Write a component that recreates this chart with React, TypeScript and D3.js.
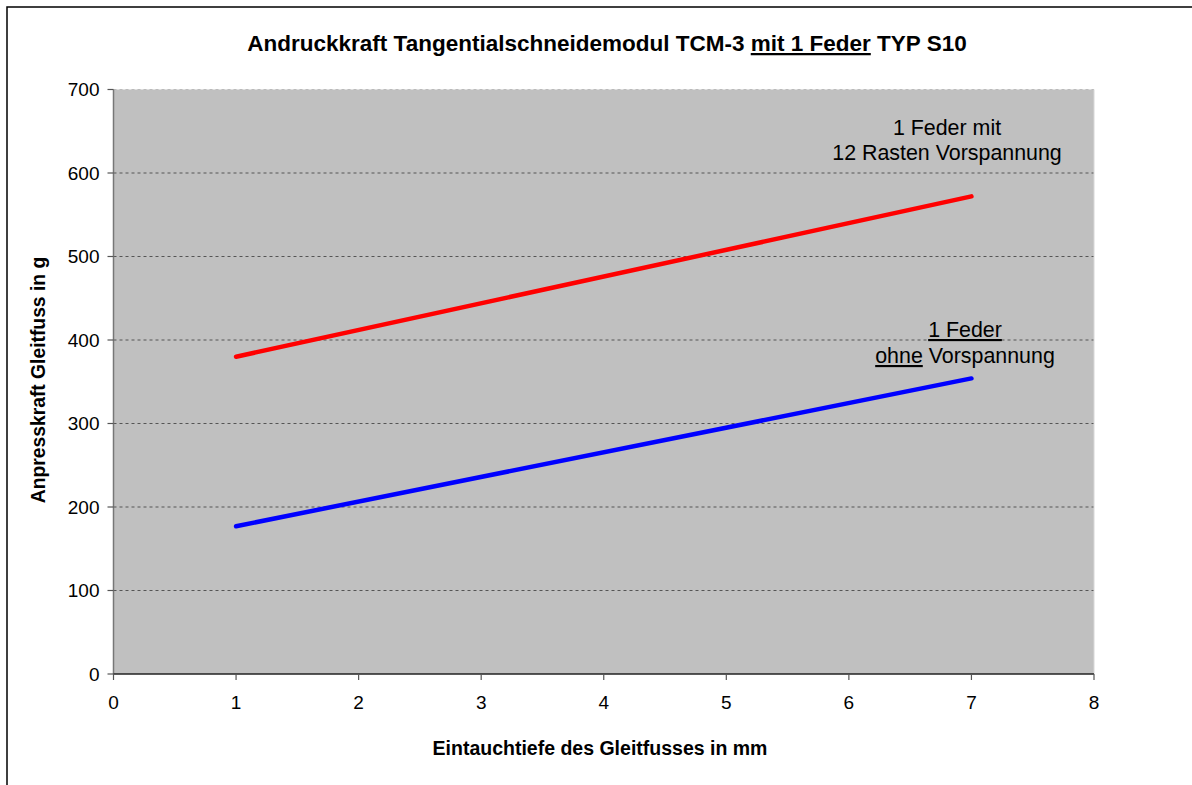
import React from "react";
import * as d3 from "d3";

const title = "Andruckkraft Tangentialschneidemodul TCM-3 ";
const titleUnderlined = "mit 1 Feder";
const titleEnd = " TYP S10";
const xLabel = "Eintauchtiefe des Gleitfusses in mm";
const yLabel = "Anpresskraft Gleitfuss in g";

const xTicks = [0, 1, 2, 3, 4, 5, 6, 7, 8];
const yTicks = [0, 100, 200, 300, 400, 500, 600, 700];

const depthMm = [1, 7];
const withPreload = [380, 572];
const withoutPreload = [177, 354];

const W = 1192;
const H = 785;
const left = 113.5;
const right = 1094;
const top = 89.5;
const bottom = 674;
const FONT = "'Liberation Sans', Arial, sans-serif";

export default function App() {
  const x = d3.scaleLinear().domain([0, 8]).range([left, right]);
  const y = d3.scaleLinear().domain([0, 700]).range([bottom, top]);
  const line = d3
    .line<number>()
    .x((_, i) => x(depthMm[i]))
    .y((d) => y(d));

  return (
    <svg
      width={W}
      height={H}
      style={{ position: "absolute", left: 0, top: 0, background: "#fff" }}
      fontFamily={FONT}
    >
      <rect x={0} y={0} width={W} height={H} fill="#fff" />
      <rect x={7} y={7} width={W + 20} height={H + 20} fill="none" stroke="#000" strokeWidth={1.5} />
      <text x={607} y={51} textAnchor="middle" fontSize={22.5} fontWeight="bold" fill="#000">
        {title}
        <tspan textDecoration="underline">{titleUnderlined}</tspan>
        {titleEnd}
      </text>
      <rect x={left} y={top} width={right - left} height={bottom - top} fill="#C0C0C0" />
      {yTicks.filter((t) => t > 0).map((t) => (
        <line
          key={"g" + t}
          x1={left}
          x2={right}
          y1={y(t)}
          y2={y(t)}
          stroke={t === 700 ? "#bbb" : "#555"}
          strokeWidth={1}
          strokeDasharray="3,3"
        />
      ))}
      <line x1={right} x2={right} y1={top} y2={bottom} stroke="#d8d8d8" strokeWidth={1} />
      <line x1={left} x2={left} y1={top} y2={bottom} stroke="#777" strokeWidth={1.5} />
      <line x1={left} x2={right} y1={bottom} y2={bottom} stroke="#222" strokeWidth={1.5} />
      {yTicks.map((t) => (
        <g key={"y" + t}>
          <line x1={left - 6} x2={left} y1={y(t)} y2={y(t)} stroke="#555" strokeWidth={1.2} />
          <text x={left - 14} y={y(t)} dy="0.35em" textAnchor="end" fontSize={19} fill="#000">
            {t}
          </text>
        </g>
      ))}
      {xTicks.map((t) => (
        <g key={"x" + t}>
          <line x1={x(t)} x2={x(t)} y1={bottom} y2={bottom + 6} stroke="#555" strokeWidth={1.2} />
          <text x={x(t)} y={bottom + 35} textAnchor="middle" fontSize={19} fill="#000">
            {t}
          </text>
        </g>
      ))}
      <path d={line(withPreload) || ""} fill="none" stroke="#FF0000" strokeWidth={4.5} strokeLinecap="round" />
      <path d={line(withoutPreload) || ""} fill="none" stroke="#0000FF" strokeWidth={4.5} strokeLinecap="round" />
      <text x={947} y={135} textAnchor="middle" fontSize={21.4} fill="#000">1 Feder mit</text>
      <text x={947} y={160} textAnchor="middle" fontSize={21.4} fill="#000">12 Rasten Vorspannung</text>
      <text x={965} y={337} textAnchor="middle" fontSize={21.4} fill="#000" textDecoration="underline">1 Feder</text>
      <text x={965} y={363} textAnchor="middle" fontSize={21.4} fill="#000">
        <tspan textDecoration="underline">ohne</tspan> Vorspannung
      </text>
      <text x={600} y={755} textAnchor="middle" fontSize={19.5} fontWeight="bold" fill="#000">
        {xLabel}
      </text>
      <text
        transform={`translate(45,380) rotate(-90)`}
        textAnchor="middle"
        fontSize={19.3}
        fontWeight="bold"
        fill="#000"
      >
        {yLabel}
      </text>
    </svg>
  );
}
